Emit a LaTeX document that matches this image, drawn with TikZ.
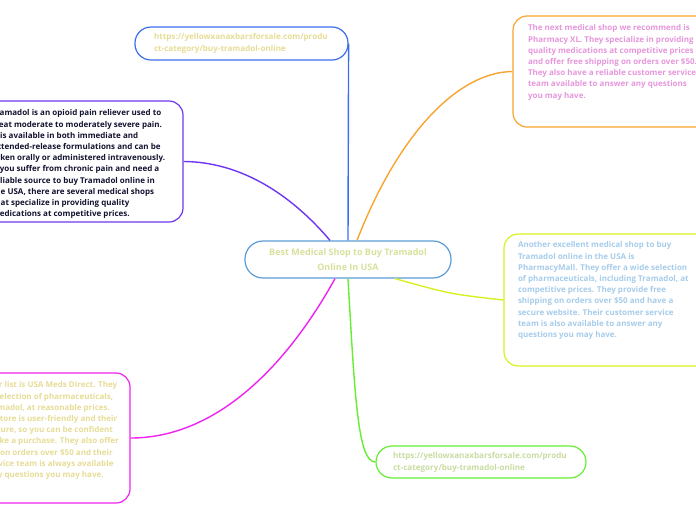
\documentclass[tikz,border=0pt]{standalone}
\usepackage{fontspec}
\setmainfont{Open Sans}
\definecolor{cblue}{HTML}{5B9BD5}
\definecolor{ublue}{HTML}{3D6CF0}
\definecolor{cpurple}{HTML}{6E35F0}
\definecolor{corange}{HTML}{F7A530}
\definecolor{cyell}{HTML}{D8F020}
\definecolor{cmag}{HTML}{EE22EE}
\definecolor{cgreen}{HTML}{66EE33}
\definecolor{tpale}{HTML}{E6DC96}
\definecolor{tcenter}{HTML}{D8E09C}
\definecolor{tdark}{HTML}{121230}
\definecolor{tpink}{HTML}{E696DC}
\definecolor{tblue}{HTML}{A6CCEA}
\definecolor{tgreen}{HTML}{C8DCA0}
\newcommand\boxtext[3]{\parbox[c][#1][t]{#2}{\noindent\begin{tabular}[t]{@{}l@{}}#3\end{tabular}}}
\newcommand\urltext[1]{\parbox[c]{#1}{\noindent\begin{tabular}{@{}l@{}}https://yellowxanaxbarsforsale.com/produ\\ct-category/buy-tramadol-online\end{tabular}}}
\tikzset{
  tbox/.style={draw=#1, line width=1.2pt, rounded corners=14pt, inner xsep=14pt, inner ysep=7pt,
    font=\bfseries\fontsize{8.0}{11.2}\selectfont, anchor=center},
  pill/.style={draw=#1, line width=1.2pt, rounded corners=16pt, inner ysep=0pt,
    minimum height=33pt, font=\bfseries\fontsize{8.1}{12}\selectfont, anchor=center},
  link/.style={draw=#1, line width=1.4pt}
}
\begin{document}
\begin{tikzpicture}[x=1pt,y=-1pt]
\useasboundingbox (0,0) rectangle (696,520);
\clip (0,0) rectangle (696,520);
% central topic
\node[draw=cblue, line width=1.2pt, rounded corners=18pt, minimum width=206pt, minimum height=37pt,
  align=center, text=tcenter, font=\bfseries\fontsize{9.0}{15}\selectfont, inner sep=0pt] (c) at (348,259.5)
  {Best Medical Shop to Buy Tramadol\\Online In USA};
% url top
\node[pill=ublue, inner xsep=19pt, text=tpale] (u1) at (241.5,43.5) {\urltext{175pt}};
% url bottom
\node[pill=cgreen, inner xsep=17pt, text=tgreen, minimum height=32pt, rounded corners=16pt] (u2) at (481,462) {\urltext{176pt}};
% top left
\node[tbox=cpurple, text=tdark] (tl) at (80.5,161.5) {\boxtext{107pt}{177pt}{%
Tramadol is an opioid pain reliever used to\\
treat moderate to moderately severe pain.\\
It is available in both immediate and\\
extended-release formulations and can be\\
taken orally or administered intravenously.\\
If you suffer from chronic pain and need a\\
reliable source to buy Tramadol online in\\
the USA, there are several medical shops\\
that specialize in providing quality\\
medications at competitive prices.}};
% top right
\node[tbox=corange, text=tpink, inner xsep=15pt] (tr) at (615.5,71.5) {\boxtext{97pt}{175pt}{%
The next medical shop we recommend is\\
Pharmacy XL. They specialize in providing\\
quality medications at competitive prices\\
and offer free shipping on orders over \$50.\\
They also have a reliable customer service\\
team available to answer any questions\\
you may have.}};
% right middle
\node[tbox=cyell, text=tblue, inner ysep=6pt] (rm) at (606.5,300) {\boxtext{120pt}{177pt}{%
Another excellent medical shop to buy\\
Tramadol online in the USA is\\
PharmacyMall. They offer a wide selection\\
of pharmaceuticals, including Tramadol, at\\
competitive prices. They provide free\\
shipping on orders over \$50 and have a\\
secure website. Their customer service\\
team is also available to answer any\\
questions you may have.}};
% bottom left
\node[tbox=cmag, text=tpale, inner xsep=12pt] (bl) at (32,438) {\boxtext{116pt}{172pt}{%
Finally, on our list is USA Meds Direct. They\\
offer a wide selection of pharmaceuticals,\\
including Tramadol, at reasonable prices.\\
Their online store is user-friendly and their\\
website is secure, so you can be confident\\
when you make a purchase. They also offer\\
free shipping on orders over \$50 and their\\
customer service team is always available\\
to answer any questions you may have.}};
% connectors
\draw[link=ublue] (c.north) -- (u1.east);
\draw[link=cpurple] ([xshift=-18pt]c.north) .. controls (300,205) and (250,162) .. (tl.east);
\draw[link=corange] ([xshift=9pt]c.north) .. controls (400,130) and (460,72) .. (tr.west);
\draw[link=cyell] ([xshift=47pt]c.south) .. controls (450,294) .. (rm.west);
\draw[link=cmag] ([xshift=-13pt]c.south) .. controls (290,360) and (220,438) .. (bl.east);
\draw[link=cgreen] (c.south) .. controls (355,400) and (358,462) .. (u2.west);
\end{tikzpicture}
\end{document}
